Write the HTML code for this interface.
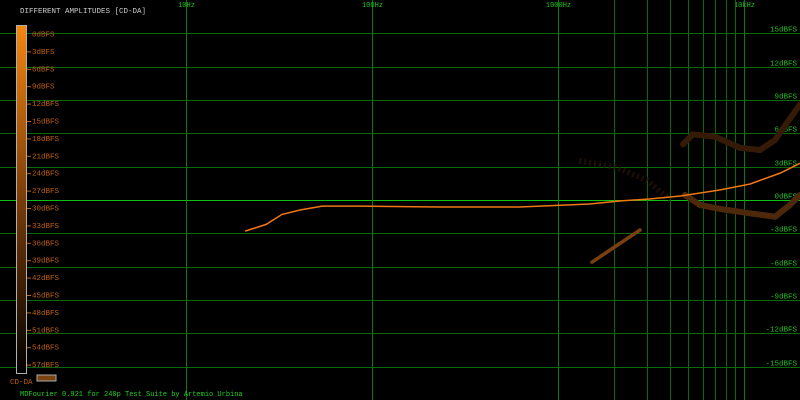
<!DOCTYPE html>
<html><head><meta charset="utf-8"><style>
body{margin:0;background:#000;}
svg{display:block;font-family:"Liberation Mono",monospace;}
</style></head><body>
<svg id="c" width="800" height="400" xmlns="http://www.w3.org/2000/svg">
<rect width="800" height="400" fill="#000"/>
<g id="grid"></g>
<g id="marks"></g>
<g id="legend"></g>
<text x="20" y="13" fill="#d0d0d0" font-size="7.5">DIFFERENT AMPLITUDES [CD-DA]</text>
<text x="10" y="384" fill="#c06010" font-size="7.5">CD-DA</text>
<rect x="37" y="375" width="19" height="6" fill="#7a4410" stroke="#aaa" stroke-width="1"/>
<text x="20" y="396" fill="#20d020" font-size="7">MDFourier 0.921 for 240p Test Suite by Artemio Urbina</text>
</svg>
<script>
const freqTicks=[10,100,1000,10000];
const freqTickLabels=["10Hz","100Hz","1000Hz","10kHz"];
const minorFreqs=[2000,3000,4000,5000,6000,7000,8000,9000,20000];
const dbTicks=[15,12,9,6,3,0,-3,-6,-9,-12,-15];
const dbTickLabels=["15dBFS","12dBFS","9dBFS","6dBFS","3dBFS","0dBFS","-3dBFS","-6dBFS","-9dBFS","-12dBFS","-15dBFS"];
const mainFreqs=[20.8,27,32.8,41,54,86,232,620,1480,2140,3100,4550,7400,10800,15700,20000];
const mainDb=[-2.8,-2.2,-1.3,-0.9,-0.55,-0.55,-0.63,-0.63,-0.36,-0.09,0.09,0.36,0.9,1.44,2.43,3.3];
const bandAFreqs=[1524,1906,2760];
const bandADb=[-5.6,-4.5,-2.7];
const bandBFreqs=[4820,5800,7430,10770,14680,17660,20000];
const bandBDb=[0.45,-0.45,-0.8,-1.2,-1.5,-0.45,0.45];
const bandCFreqs=[4700,5300,6980,9510,12190,14680,20000];
const bandCDb=[5.0,5.9,5.7,4.7,4.5,5.4,8.6];
const bandDFreqs=[1300,2000,3000,4000];
const bandDDb=[3.5,3.0,1.8,0];
const legendLabels=["0dBFS","-3dBFS","-6dBFS","-9dBFS","-12dBFS","-15dBFS","-18dBFS","-21dBFS","-24dBFS","-27dBFS","-30dBFS","-33dBFS","-36dBFS","-39dBFS","-42dBFS","-45dBFS","-48dBFS","-51dBFS","-54dBFS","-57dBFS"];

const NS="http://www.w3.org/2000/svg";
function xScale(f){return 186+(Math.log10(f)-1)*186;}
function yScale(db){return 200-db*(100/9);}
function mk(tag,attrs,parent){const e=document.createElementNS(NS,tag);for(const k in attrs)e.setAttribute(k,attrs[k]);parent.appendChild(e);return e;}
const grid=document.getElementById('grid'),marks=document.getElementById('marks'),legend=document.getElementById('legend');

dbTicks.forEach((d,i)=>{
  const y=Math.round(yScale(d))+0.5;
  const l=mk('line',{x1:0,x2:800,y1:y,y2:y,stroke:d===0?'#10c010':'#0a6a0a','stroke-width':1},grid);
  
  
  const t=mk('text',{x:797,y:y-2,fill:'#20c020','font-size':7.5,'text-anchor':'end'},grid);
  t.textContent=dbTickLabels[i];
  
  
});
freqTicks.forEach((f,i)=>{
  const x=Math.round(xScale(f))+0.5;
  const l=mk('line',{x1:x,x2:x,y1:0,y2:400,stroke:'#0a7a0a','stroke-width':1},grid);
  
  
  const t=mk('text',{x:x,y:7,fill:'#20c020','font-size':7,'text-anchor':'middle'},grid);
  t.textContent=freqTickLabels[i];
  
  
});
minorFreqs.forEach(f=>{
  const x=Math.round(xScale(f))+0.5;
  const l=mk('line',{x1:x,x2:x,y1:0,y2:400,stroke:'#0a6a0a','stroke-width':1},grid);
  
  
});

function pathOf(fs,ds){return fs.map((f,i)=>(i?'L':'M')+xScale(f).toFixed(1)+','+yScale(ds[i]).toFixed(1)).join(' ');}
const bD=mk('path',{d:pathOf(bandDFreqs,bandDDb),stroke:'#2e1605',fill:'none','stroke-width':6,'stroke-dasharray':'2 3',opacity:0.7},marks);


const bC=mk('path',{d:pathOf(bandCFreqs,bandCDb),stroke:'#341a07',fill:'none','stroke-width':6,'stroke-linecap':'round'},marks);


const bB=mk('path',{d:pathOf(bandBFreqs,bandBDb),stroke:'#4e280a',fill:'none','stroke-width':6,'stroke-linecap':'round'},marks);


const bA=mk('path',{d:pathOf(bandAFreqs,bandADb),stroke:'#7a4010',fill:'none','stroke-width':3.5,'stroke-linecap':'round'},marks);


const main=mk('path',{d:pathOf(mainFreqs,mainDb),stroke:'#f07814',fill:'none','stroke-width':1.5},marks);



const defs=mk('defs',{},legend);
const g=mk('linearGradient',{id:'cb',x1:0,y1:0,x2:0,y2:1},defs);
mk('stop',{offset:0,'stop-color':'#f5860f'},g);
mk('stop',{offset:0.5,'stop-color':'#7a3c08'},g);
mk('stop',{offset:1,'stop-color':'#000'},g);
const bar=mk('rect',{x:16.5,y:25.5,width:10,height:348,fill:'url(#cb)',stroke:'#b0b0b0','stroke-width':1},legend);


legendLabels.forEach((s,i)=>{
  const y=34+i*17.4;
  if(i>0){
    const tk=mk('line',{x1:27,x2:31,y1:y+0.5,y2:y+0.5,stroke:'#c06010','stroke-width':1},legend);
    
    
  }
  const t=mk('text',{x:32,y:y+2.5,fill:'#c06010','font-size':7.5},legend);
  t.textContent=s.replace(/^-/,'');
  
  
});
</script>
</body></html>
